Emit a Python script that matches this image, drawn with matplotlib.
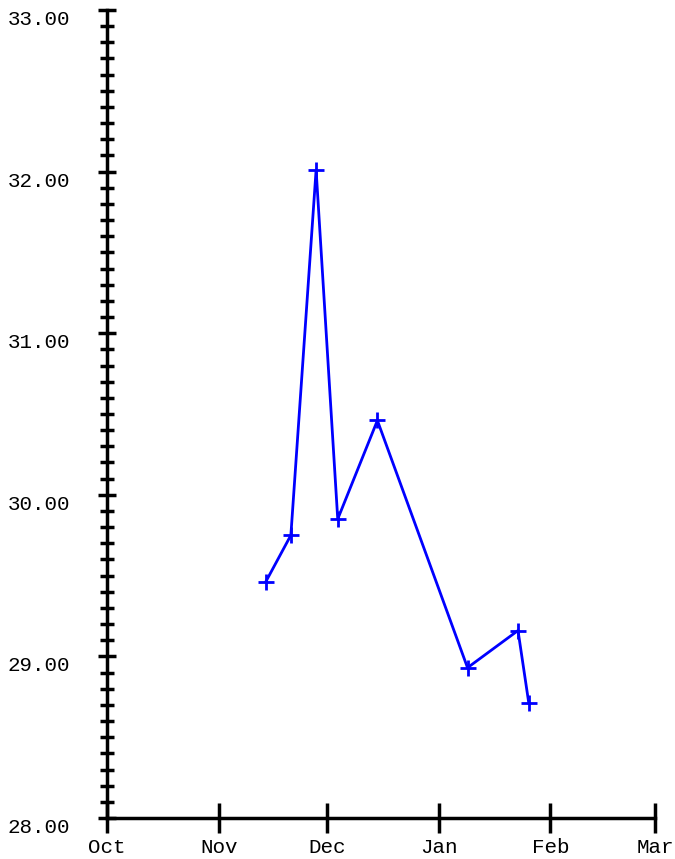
import matplotlib
matplotlib.use("Agg")
import matplotlib.pyplot as plt
import matplotlib.dates as mdates
from matplotlib.ticker import MultipleLocator, FormatStrFormatter
import pandas as pd

dates = ["2023-11-14", "2023-11-21", "2023-11-28", "2023-12-04", "2023-12-15",
         "2024-01-09", "2024-01-23", "2024-01-26"]
values = [29.46, 29.75, 32.01, 29.85, 30.46, 28.93, 29.16, 28.71]

x_start, x_end = "2023-10-01", "2024-03-01"
y_min, y_max = 28.0, 33.0

plt.rcParams['font.family'] = ['Liberation Mono', 'DejaVu Sans Mono']

fig = plt.figure(figsize=(6.75, 8.59), dpi=100)
ax = fig.add_axes([107/675, 41/859, 548/675, 808/859])

x = pd.to_datetime(dates)
ax.plot(x, values, color='#0000ff', lw=2, marker='+', markersize=12,
        markeredgewidth=2, clip_on=False)

ax.set_xlim(pd.Timestamp(x_start), pd.Timestamp(x_end))
ax.set_ylim(y_min, y_max)

for s in ['top', 'right']:
    ax.spines[s].set_visible(False)
for s in ['left', 'bottom']:
    ax.spines[s].set_linewidth(2.5)
    ax.spines[s].set_color('black')

ax.xaxis.set_major_locator(mdates.MonthLocator())
ax.xaxis.set_major_formatter(mdates.DateFormatter('%b'))
ax.yaxis.set_major_locator(MultipleLocator(1.0))
ax.yaxis.set_minor_locator(MultipleLocator(0.1))
ax.yaxis.set_major_formatter(FormatStrFormatter('%.2f'))

ax.tick_params(axis='x', which='major', direction='inout', length=21, width=2.5,
               pad=4, labelsize=15, colors='black')
ax.tick_params(axis='y', which='major', direction='inout', length=13, width=2.5,
               pad=20, labelsize=15, colors='black')
ax.tick_params(axis='y', which='minor', direction='inout', length=9.5, width=2.5)
for lbl in ax.get_yticklabels():
    lbl.set_va('top')
for t in ax.yaxis.get_major_ticks():
    t.tick1line.set_clip_on(False)
for t in ax.xaxis.get_major_ticks():
    t.tick1line.set_clip_on(False)

fig.savefig("out.png", dpi=100)
